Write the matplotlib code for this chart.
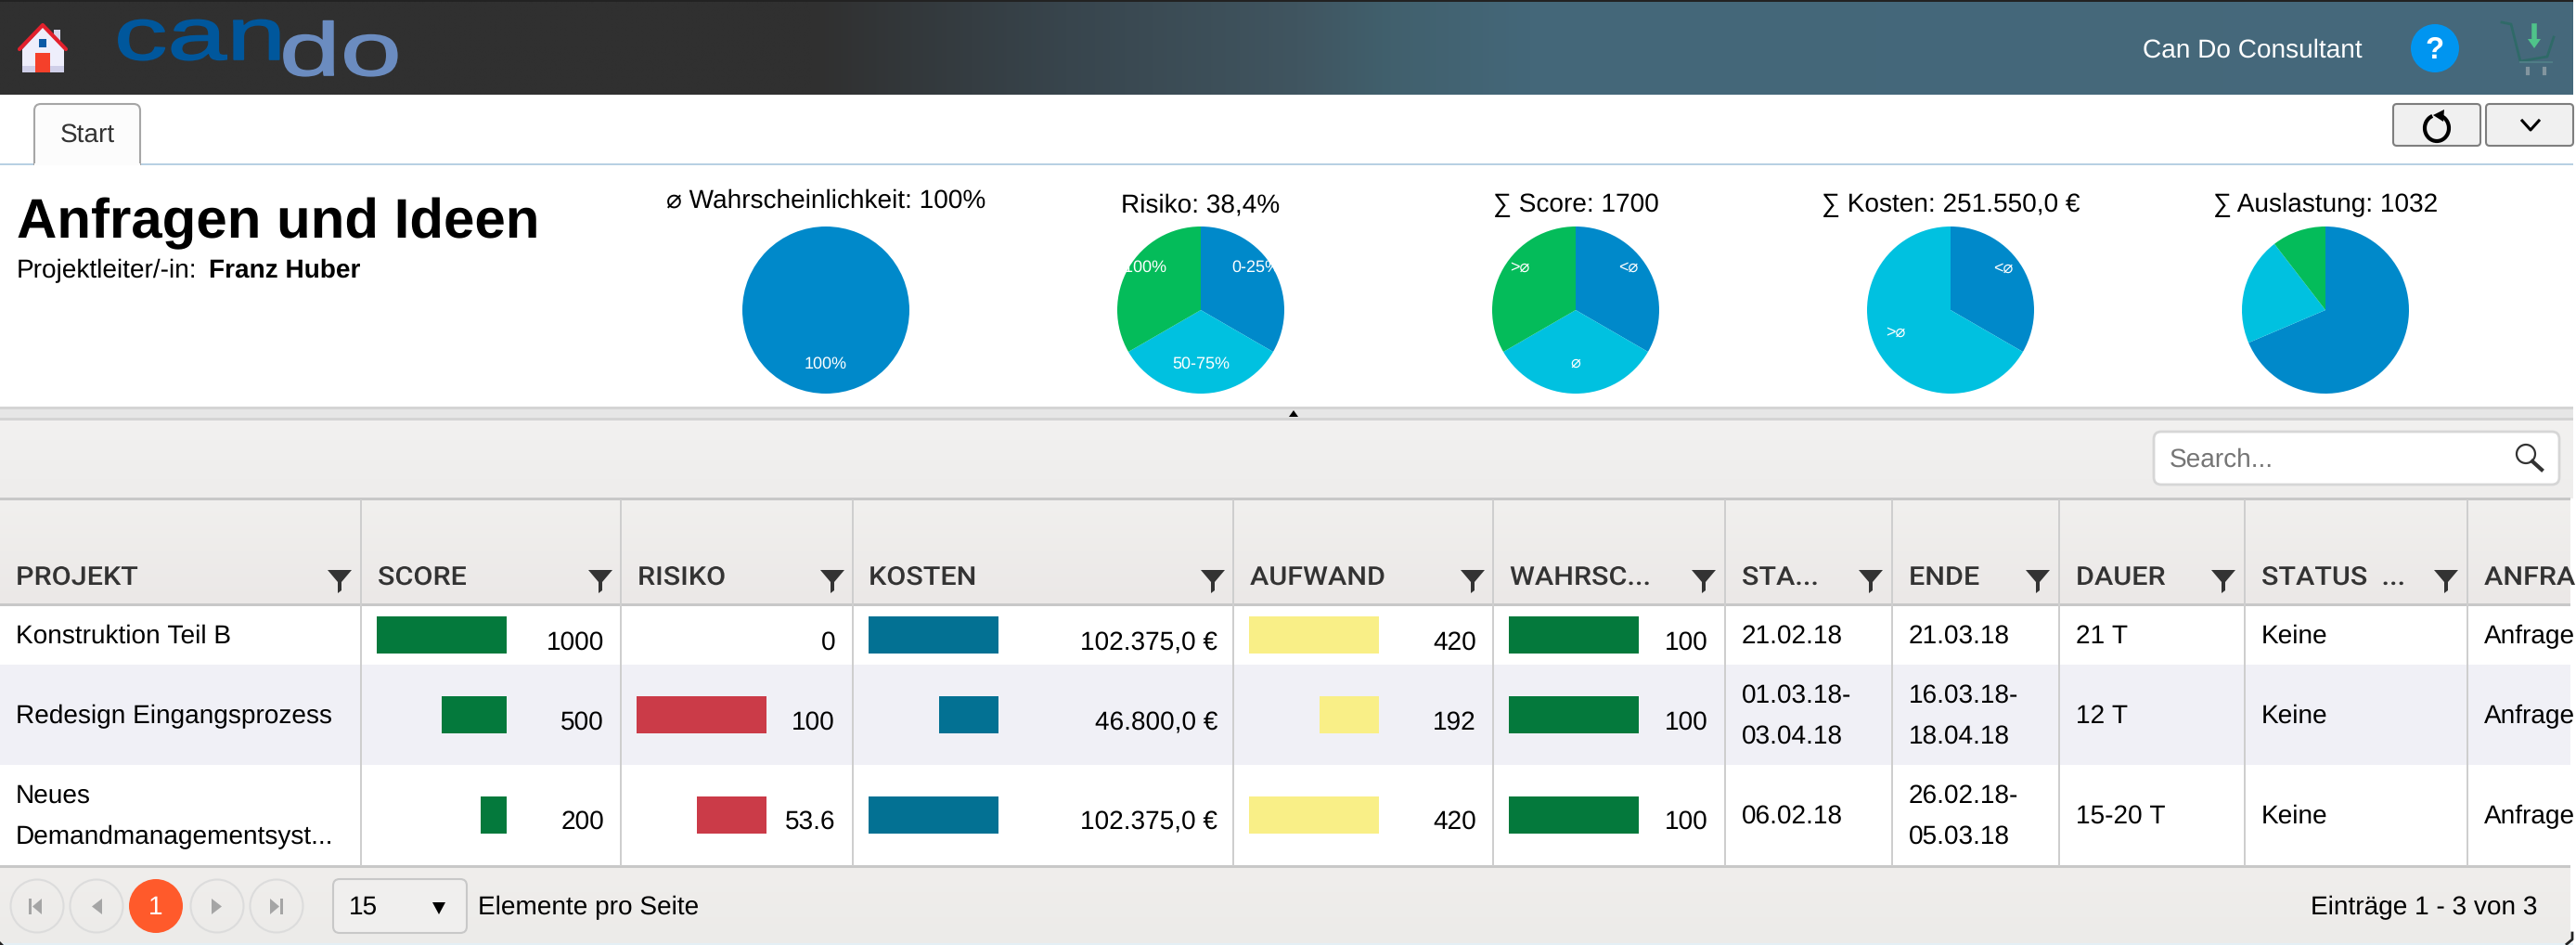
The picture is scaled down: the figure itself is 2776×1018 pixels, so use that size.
import numpy as np
import matplotlib
matplotlib.use("Agg")
import matplotlib.pyplot as plt
from matplotlib.colors import to_rgb
from matplotlib.patches import Rectangle, Polygon, Circle, FancyBboxPatch, Arc
from matplotlib.patheffects import AbstractPathEffect
from matplotlib.transforms import Affine2D

plt.rcParams['font.family'] = ['Liberation Sans', 'DejaVu Sans']
plt.rcParams['text.hinting'] = 'no_hinting'
plt.rcParams['text.hinting_factor'] = 1

W, H = 2776, 1018

# table data
projects = [["Konstruktion Teil B"], ["Redesign Eingangsprozess"], ["Neues", "Demandmanagementsyst..."]]
score = [1000, 500, 200]
risiko = [0, 100, 53.6]
kosten = [102375.0, 46800.0, 102375.0]
aufwand = [420, 192, 420]
wahrsch = [100, 100, 100]
start = [["21.02.18"], ["01.03.18-", "03.04.18"], ["06.02.18"]]
ende = [["21.03.18"], ["16.03.18-", "18.04.18"], ["26.02.18-", "05.03.18"]]
dauer = ["21 T", "12 T", "15-20 T"]
status = ["Keine", "Keine", "Keine"]
anfrage = ["Anfrage", "Anfrage", "Anfrage"]
headers = ["PROJEKT", "SCORE", "RISIKO", "KOSTEN", "AUFWAND", "WAHRSC...", "STA...", "ENDE", "DAUER", "STATUS  ...", "ANFRAGE"]

# pie data
pie_titles = ["⌀ Wahrscheinlichkeit: 100%", "Risiko: 38,4%", "∑ Score: 1700", "∑ Kosten: 251.550,0 €", "∑ Auslastung: 1032"]
pie_values = [[100], [1, 1, 1], [1, 1, 1], [1, 2], [708, 216, 108]]
pie_colors = ["#0089ca", "#00c1e0", "#04bc5a"]

# layout in pixels
col_x = [389, 669, 919, 1329, 1609, 1859, 2039, 2219, 2419, 2659]
head_x = [17, 407, 687, 936, 1347, 1627, 1877, 2057, 2237, 2437, 2677]
funnel_x = [366, 647, 897, 1307, 1587, 1836, 2016, 2196, 2396, 2636]
row_mid = [684, 770, 878]
num_base = [700, 786, 893]
pie_x = [890, 1294, 1698, 2102, 2506]
pie_base = [223, 228, 228, 228, 228]
GRID = "#cecece"
RIGHT = 2770


class Stretch(AbstractPathEffect):
    # stretches text sideways around x0 (pixels), lw thickens the glyphs
    def __init__(self, sx, x0, lw=0):
        super().__init__()
        self.sx = sx
        self.x0 = x0
        self.lw = lw

    def draw_path(self, renderer, gc, tpath, affine, rgbFace=None):
        t = affine + Affine2D().translate(-self.x0, 0).scale(self.sx, 1).translate(self.x0, 0)
        g = renderer.new_gc()
        g.copy_properties(gc)
        if self.lw:
            g.set_foreground(rgbFace)
            g.set_linewidth(self.lw)
        renderer.draw_path(g, tpath, t, rgbFace)
        g.restore()


def grad(ax, x0, x1, y0, y1, stops, horizontal=False):
    pos = [s[0] for s in stops]
    cols = np.array([to_rgb(s[1]) for s in stops])
    n = 512
    t = np.linspace(pos[0], pos[-1], n)
    arr = np.stack([np.interp(t, pos, cols[:, i]) for i in range(3)], axis=-1)
    arr = arr[None, :, :] if horizontal else arr[:, None, :]
    ax.imshow(arr, extent=(x0, x1, y1, y0), aspect='auto', interpolation='bilinear', zorder=0)


def rect(ax, x0, y0, x1, y1, color, z=1, **kw):
    ax.add_patch(Rectangle((x0, y0), x1 - x0, y1 - y0, facecolor=color, edgecolor='none', zorder=z, **kw))


def rbox(ax, x0, y0, x1, y1, fc, ec, r=6, lw=1.5, z=3):
    ax.add_patch(FancyBboxPatch((x0 + r, y0 + r), x1 - x0 - 2 * r, y1 - y0 - 2 * r,
                                boxstyle=f"round,pad={r},rounding_size={r}", fc=fc, ec=ec, lw=lw, zorder=z))


fig = plt.figure(figsize=(W / 100, H / 100), dpi=100, facecolor='white')
ui = fig.add_axes([0, 0, 1, 1])
ui.set_autoscale_on(False)
ui.set_xlim(0, W)
ui.set_ylim(H, 0)
ui.axis('off')


def txt(x, y, s, size=20, color='black', ha='left', va='baseline', **kw):
    return ui.text(x, y, s, fontsize=size, color=color, ha=ha, va=va, zorder=6, **kw)


# top bar
grad(ui, 0, RIGHT + 3, 0, 102, [(0, "#303030"), (880, "#303030"), (1150, "#38454d"), (1400, "#405560"),
                                (1500, "#41606d"), (1650, "#446779"), (W, "#46697c")], horizontal=True)
rect(ui, 0, 0, RIGHT + 3, 2, "#222222", z=2)

# home icon
ui.add_patch(Polygon([[58, 32], [65, 32], [65, 52], [58, 52]], fc="#d5d5ea", ec='none', zorder=3))
ui.add_patch(Polygon([[24, 53], [46, 29], [69, 53], [69, 78], [24, 78]], fc="#eeeefb", ec='none', zorder=3))
rect(ui, 24, 71, 69, 78, "#cfcfe8", z=3)
ui.plot([21, 46, 71], [53, 27, 53], color="#e3202c", lw=3, zorder=4, solid_capstyle='round')
rect(ui, 38, 57, 54, 78, "#f5402a", z=4)
rect(ui, 42, 42, 50, 51, "#0b5aa6", z=4)

# logo
t = txt(123, 64, "can", size=57, color="#00579c")
t.set_path_effects([Stretch(1.45, 123, lw=1.2)])
t = txt(301, 81, "do", size=58, color="#6b8cc0")
t.set_path_effects([Stretch(1.47, 301, lw=1.2)])

txt(2309, 62, "Can Do Consultant", color='white')
ui.add_patch(Circle((2624, 52), 26, fc="#0095f0", ec='none', zorder=3))
txt(2624, 63, "?", size=24, color='white', ha='center', fontweight='bold')

# cart
ui.plot([2696, 2706, 2716, 2745, 2752], [24, 26, 66, 61, 40], color="#2f6a68", lw=2, zorder=3)
ui.plot([2716, 2750], [67, 67], color="#4f7d86", lw=1.5, zorder=3)
ui.plot([2731, 2731], [28, 44], color="#4fc38a", lw=4, zorder=3)
ui.add_patch(Polygon([[2724, 42], [2738, 42], [2731, 52]], fc="#4fc38a", ec='none', zorder=3))
ui.plot([2724, 2724], [74, 79], color="#82959f", lw=3, zorder=3)
ui.plot([2742, 2742], [74, 79], color="#82959f", lw=3, zorder=3)

# tab row
rect(ui, 0, 176, RIGHT + 3, 178, "#b8d0e3", z=1)
rbox(ui, 37, 112, 151, 190, "#fcfcfc", "#a6a6a6", r=7, lw=1.5, z=2)
rect(ui, 30, 178, 160, 195, "white", z=2)
rect(ui, 37, 176, 151, 178, "#fcfcfc", z=2)
txt(94, 153, "Start", color="#333333", ha='center')
rbox(ui, 2579, 112, 2673, 157, "#f0f0f0", "#7e7e7e", r=4)
rbox(ui, 2679, 112, 2773, 157, "#f0f0f0", "#7e7e7e", r=4)
ui.add_patch(Arc((2626, 138), 26, 28, theta1=-70, theta2=250, color='black', lw=3, zorder=5))
ui.add_patch(Polygon([[2622, 124], [2634, 118], [2633, 131]], fc='black', ec='none', zorder=5))
ui.plot([2718, 2727, 2736], [130, 140, 130], color='black', lw=2.2, zorder=5)

# title block
txt(18, 256, "Anfragen und Ideen", size=43.3, fontweight='bold')
txt(18, 299, "Projektleiter/-in:")
txt(225, 299, "Franz Huber", fontweight='bold')

# pies
pie_labels = [
    [("100%", 0, 58, 'center')],
    [("0-25%", 59, -46, 'center'), ("50-75%", 0, 58, 'center'), ("75-100%", -37, -46, 'right')],
    [("<⌀", 57, -46, 'center'), ("⌀", 0, 57, 'center'), (">⌀", -60, -46, 'center')],
    [("<⌀", 57, -45, 'center'), (">⌀", -59, 24, 'center')],
    [],
]
for i, vals in enumerate(pie_values):
    cx, cy, r = pie_x[i], 334, 90
    pa = fig.add_axes([(cx - r) / W, 1 - (cy + r) / H, 2 * r / W, 2 * r / H], zorder=3)
    pa.pie(vals, colors=pie_colors[:len(vals)], startangle=90, counterclock=False, radius=1)
    pa.set_xlim(-1, 1)
    pa.set_ylim(-1, 1)
    pa.patch.set_visible(False)
    for s, dx, dy, al in pie_labels[i]:
        pa.text(dx / r, -dy / r, s, color='white', fontsize=13, ha=al, va='center', clip_on=False)
    txt(cx, pie_base[i], pie_titles[i], size=20.5, ha='center')

# splitter
rect(ui, 0, 438, RIGHT + 3, 441, "#d4d4d4", z=1)
rect(ui, 0, 441, RIGHT + 3, 450, "#e6e6e6", z=1)
rect(ui, 0, 450, RIGHT + 3, 453, "#d4d4d4", z=1)
ui.add_patch(Polygon([[1394, 442], [1389, 449], [1399, 449]], fc='black', ec='none', zorder=3))

# search bar
grad(ui, 0, RIGHT + 3, 453, 537, [(0, "#f2f1f0"), (1, "#eeedec")])
rbox(ui, 2321, 465, 2758, 522, "white", "#d6d6d6", r=8, lw=2)
txt(2338, 503, "Search...", color="#757575")
ui.add_patch(Circle((2722, 489), 10, fc='none', ec="#333333", lw=1.6, zorder=5))
ui.plot([2729, 2739], [497, 506], color="#333333", lw=3, zorder=5)

# table header
grad(ui, 0, RIGHT, 537, 651, [(0, "#f1f0ee"), (1, "#ebe8e7")])
rect(ui, 0, 651, RIGHT, 933, "white", z=1)
rect(ui, 0, 716, RIGHT, 824, "#f0f0f6", z=1)
grad(ui, 0, RIGHT, 933, 1016, [(0, "#f0eeec"), (1, "#ecebe9")])
rect(ui, 0, 1016, RIGHT + 3, 1018, "#e4eff5", z=1)
rect(ui, 0, 536, RIGHT, 539, "#c8c8c8", z=2)
rect(ui, 0, 650, RIGHT, 653, "#c8c8c8", z=2)
rect(ui, 0, 932, RIGHT, 935, "#c8c8c8", z=2)
for x in col_x:
    rect(ui, x - 1, 538, x + 1, 933, GRID, z=2)

# window corners
ui.plot([RIGHT + 2, RIGHT + 2, RIGHT - 4], [1005, 1012, 1017], color="#222222", lw=2, zorder=3)
ui.add_patch(Polygon([[0, 1014], [4, 1018], [0, 1018]], fc="#222222", ec='none', zorder=3))

edge = Rectangle((0, 0), RIGHT, H, transform=ui.transData)
for x, s in zip(head_x, headers):
    t = txt(x, 630, s, color="#333333", fontfamily=['Roboto', 'DejaVu Sans'], fontweight='medium')
    t.set_path_effects([Stretch(1.1, x)])
    t.set_clip_path(edge)
for x in funnel_x:
    ui.add_patch(Polygon([[x - 13, 614], [x + 13, 614], [x + 2, 627], [x + 2, 636], [x - 2, 639], [x - 2, 627]],
                         fc="#333333", ec='none', zorder=5))

# data bars, every column has its own value scale
bar_cols = [(546, score, 1000, "#04793c"), (826, risiko, 100, "#cb3b48"),
            (1076, kosten, 102375.0, "#037193"), (1486, aufwand, 420, "#f9ef87"),
            (1766, wahrsch, 100, "#04793c")]
for right, vals, vmax, c in bar_cols:
    ba = fig.add_axes([(right - 140) / W, 1 - 933 / H, 140 / W, (933 - 651) / H], zorder=2)
    ba.barh(row_mid, vals, height=40, color=c)
    ba.set_xlim(vmax, 0)
    ba.set_ylim(933, 651)
    ba.axis('off')
    ba.patch.set_visible(False)


def kosten_str(v):
    return f"{v:,.1f}".replace(",", "X").replace(".", ",").replace("X", ".") + " €"


num_cols = [(651, [str(v) for v in score]), (900, [str(v) for v in risiko]),
            (1312, [kosten_str(v) for v in kosten]), (1591, [str(v) for v in aufwand]),
            (1841, [str(v) for v in wahrsch])]
for right, labels in num_cols:
    for base, s in zip(num_base, labels):
        txt(right, base, s, ha='right')

for i, mid in enumerate(row_mid):
    base = mid + 9
    lines = projects[i]
    if len(lines) == 1:
        txt(17, base, lines[0])
    else:
        txt(17, base - 22, lines[0])
        txt(17, base + 22, lines[1])
    for x, cell in ((1877, start[i]), (2057, ende[i])):
        if len(cell) == 1:
            txt(x, base, cell[0])
        else:
            txt(x, base - 22, cell[0])
            txt(x, base + 22, cell[1])
    txt(2237, base, dauer[i])
    txt(2437, base, status[i])
    t = txt(2677, base, anfrage[i])
    t.set_clip_path(edge)

# pager
pager_x = [40, 104, 168, 234, 298]
for i, x in enumerate(pager_x):
    if i == 2:
        ui.add_patch(Circle((x, 976), 29, fc="#ff5a2b", ec='none', zorder=3))
    else:
        ui.add_patch(Circle((x, 976), 28.5, fc="none", ec="#dcdcdc", lw=1.5, zorder=3))
txt(168, 985, "1", color='white', ha='center')
G = "#a5a5a5"
ui.add_patch(Polygon([[45, 968], [45, 985], [35, 976.5]], fc=G, ec='none', zorder=4))
rect(ui, 31, 968, 34, 985, G, z=4)
ui.add_patch(Polygon([[110, 968], [110, 985], [99, 976.5]], fc=G, ec='none', zorder=4))
ui.add_patch(Polygon([[228, 968], [228, 985], [239, 976.5]], fc=G, ec='none', zorder=4))
ui.add_patch(Polygon([[291, 968], [291, 985], [301, 976.5]], fc=G, ec='none', zorder=4))
rect(ui, 302, 968, 305, 985, G, z=4)

rbox(ui, 359, 947, 503, 1005, "#f0efee", "#c8c8c8", r=7, lw=1.5)
txt(376, 985, "15")
ui.add_patch(Polygon([[466, 972], [480, 972], [473, 985]], fc='black', ec='none', zorder=4))
txt(515, 985, "Elemente pro Seite")
txt(2734, 985, "Einträge 1 - 3 von 3", ha='right')

fig.savefig("out.png", dpi=100, facecolor='white')
